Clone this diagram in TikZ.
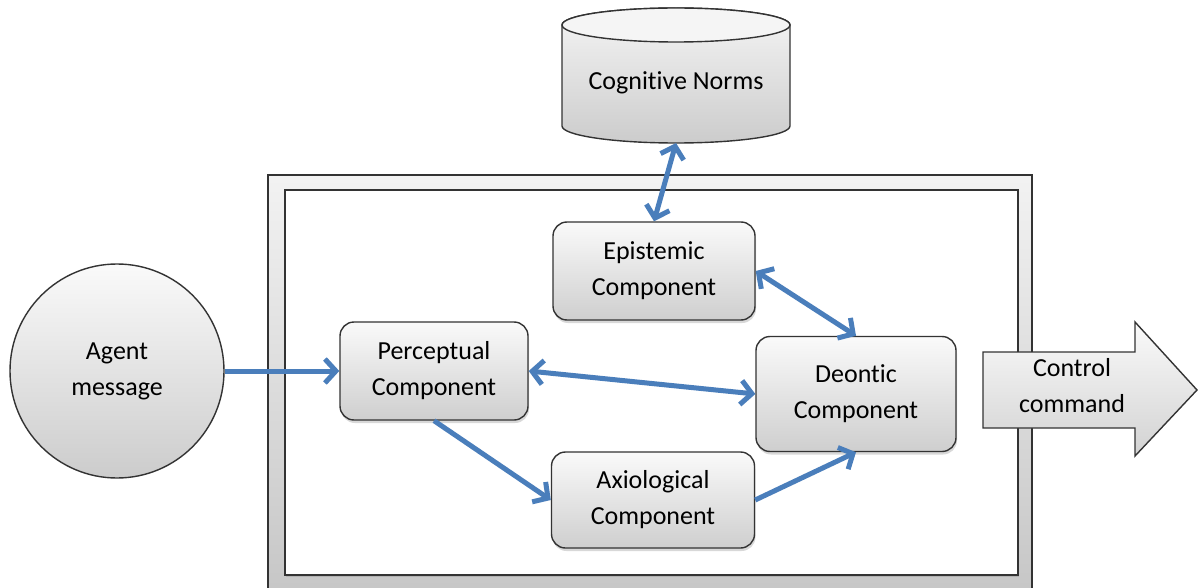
\documentclass[tikz,border=0pt]{standalone}
\usepackage{fontspec}
\setmainfont[Ligatures=NoCommon]{Carlito}
\usetikzlibrary{arrows.meta,shadows}
\definecolor{arrowblue}{HTML}{4A7EBB}
\definecolor{edge}{HTML}{333333}
\tikzset{
  tipb/.tip={Straight Barb[length=11pt,width=24pt]},
  comp/.style={draw=edge, line width=1.4pt, rounded corners=14pt,
    top color=gray!4, bottom color=gray!38, align=center,
    font=\fontsize{26}{36}\selectfont, inner sep=0pt,
    drop shadow={opacity=0.3,shadow xshift=1pt,shadow yshift=-3pt}},
  link/.style={draw=arrowblue, line width=5pt, -tipb},
  dlink/.style={draw=arrowblue, line width=5pt, tipb-tipb},
  txt/.style={align=center, font=\fontsize{26}{36}\selectfont, inner sep=0pt},
}
\begin{document}
\begin{tikzpicture}[x=1pt,y=-1pt]
\useasboundingbox (0,0) rectangle (1198,588);
% frame
\shade[top color=gray!10, bottom color=gray!45] (268,175) rectangle (1032,600);
\draw[edge, line width=1.5pt] (268,175) rectangle (1032,600);
\fill[white, drop shadow={opacity=0.3,shadow xshift=1pt,shadow yshift=-2pt}] (285,190) rectangle (1018,575);
\draw[edge, line width=2pt] (285,190) rectangle (1018,575);
% cylinder
\shade[top color=gray!8, bottom color=gray!40, draw=edge, line width=1.4pt]
  (562,25) -- (562,126) arc[start angle=180,end angle=360,x radius=114pt,y radius=17pt]
  -- (790,25) arc[start angle=0,end angle=180,x radius=114pt,y radius=17pt] -- cycle;
\filldraw[fill=gray!8, draw=edge, line width=1.4pt] (676,25) ellipse[x radius=114pt,y radius=17pt];
\node[txt] (cyl) at (676,83) {Cognitive Norms};
\coordinate (cylb) at (676,143);
% agent
\node[circle, draw=edge, line width=1.4pt, top color=gray!4, bottom color=gray!40,
  minimum size=214pt, inner sep=0pt, align=center, font=\fontsize{26}{36}\selectfont] (agent) at (117,371) {Agent\\message};
% components
\node[comp, minimum width=202pt, minimum height=98pt] (epi) at (654,271) {Epistemic\\Component};
\node[comp, minimum width=188pt, minimum height=98pt] (perc) at (434,371) {Perceptual\\Component};
\node[comp, minimum width=200pt, minimum height=115pt] (deo) at (856,394) {Deontic\\Component};
\node[comp, minimum width=203pt, minimum height=96pt] (axi) at (653,500) {Axiological\\Component};
% control command arrow
\shade[top color=gray!4, bottom color=gray!35, draw=edge, line width=1.4pt]
  (983,352) -- (1135,352) -- (1135,322) -- (1197,390) -- (1135,456) -- (1135,428) -- (983,428) -- cycle;
\node[txt] (ctrl) at (1072,386) {Control\\command};
% connectors
\draw[link] (agent.east) -- (perc.west);
\draw[dlink] (cylb) -- (epi.north);
\draw[dlink] (epi.east) -- (deo.north);
\draw[dlink] (perc.east) -- (deo.west);
\draw[link] (perc.south) -- (axi.west);
\draw[link] (axi.east) -- (deo.south);
\end{tikzpicture}
\end{document}
